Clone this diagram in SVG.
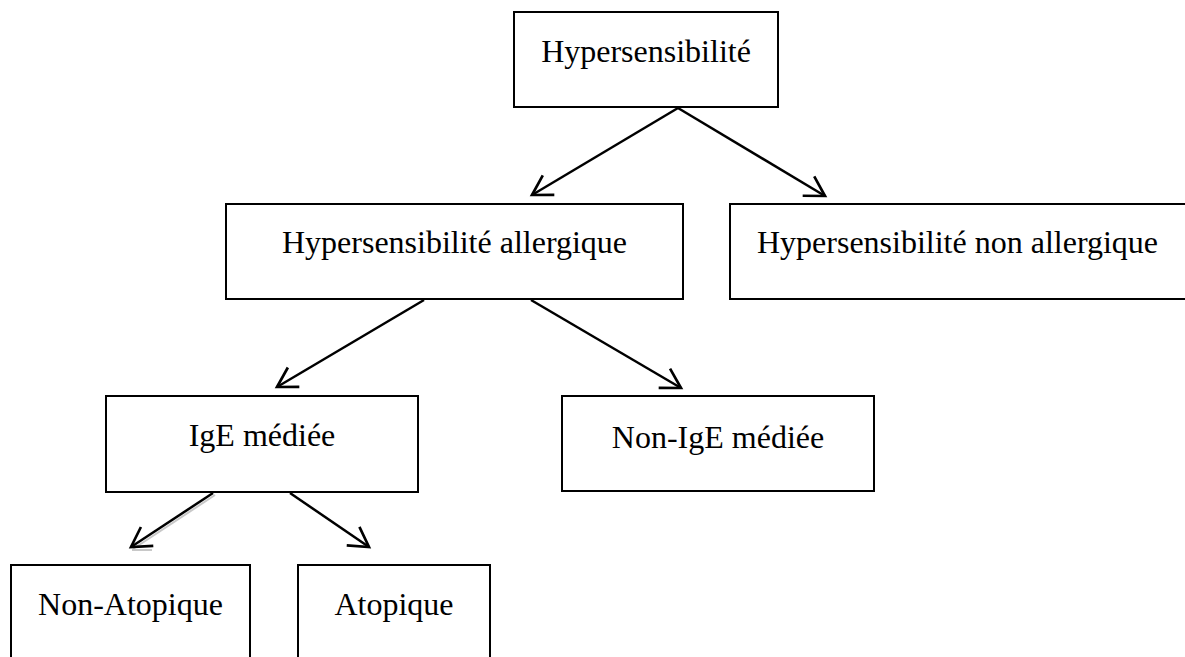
<svg xmlns="http://www.w3.org/2000/svg" width="1185" height="657" viewBox="0 0 1185 657">
<style>
.box{fill:#fff;stroke:#000;stroke-width:2}
.lbl{font-family:"Liberation Serif","Times New Roman",serif;font-size:32px;fill:#000;text-anchor:middle}
.con{stroke:#000;stroke-width:2.5;fill:none;marker-end:url(#arr)}
</style>
<defs>
<marker id="arr" markerUnits="userSpaceOnUse" markerWidth="30" markerHeight="30" refX="0" refY="0" viewBox="-22 -14 26 28" orient="auto" overflow="visible">
<path d="M-18,-10.5 L0,0 L-18,10.5" fill="none" stroke="#000" stroke-width="2.5"/>
</marker>
</defs>
<rect width="1185" height="657" fill="#fff"/>
<g id="n1"><rect class="box" x="514" y="12" width="264" height="95"/><text class="lbl" x="646" y="62">Hypersensibilité</text></g>
<g id="n2"><rect class="box" x="226" y="204" width="457" height="95"/><text class="lbl" x="454.5" y="253">Hypersensibilité allergique</text></g>
<g id="n3"><rect class="box" x="730" y="204" width="470" height="95"/><text class="lbl" x="957.5" y="253">Hypersensibilité non allergique</text></g>
<g id="n4"><rect class="box" x="106" y="396" width="312" height="96"/><text class="lbl" x="262" y="446">IgE médiée</text></g>
<g id="n5"><rect class="box" x="562" y="396" width="312" height="95"/><text class="lbl" x="718" y="448">Non-IgE médiée</text></g>
<g id="n6"><rect class="box" x="11" y="565" width="239" height="100"/><text class="lbl" x="130.5" y="615">Non-Atopique</text></g>
<g id="n7"><rect class="box" x="298" y="565" width="192" height="100"/><text class="lbl" x="394" y="615">Atopique</text></g>
<g id="connectors">
<line x1="215" y1="495" x2="133" y2="549" stroke="#c8c8c8" stroke-width="2"/>
<line x1="132" y1="550" x2="152" y2="550" stroke="#c8c8c8" stroke-width="2"/>
<line class="con" x1="678" y1="108" x2="532" y2="195"/>
<line class="con" x1="678" y1="108" x2="825" y2="196"/>
<line class="con" x1="424" y1="300" x2="277" y2="387"/>
<line class="con" x1="531" y1="300" x2="681" y2="388"/>
<line class="con" x1="213" y1="493" x2="131" y2="547"/>
<line class="con" x1="290" y1="493" x2="369" y2="547"/>
</g>
</svg>
